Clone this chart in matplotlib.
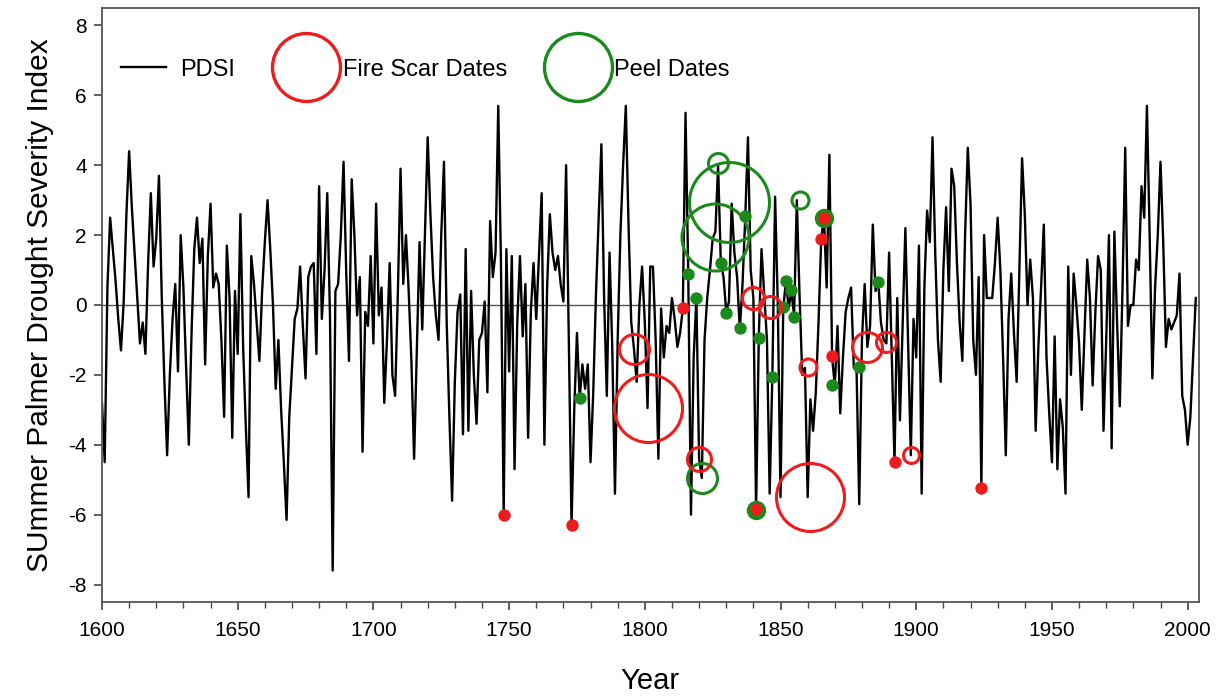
import matplotlib.pyplot as plt
from matplotlib.lines import Line2D
from matplotlib.ticker import MultipleLocator

plt.rcParams['font.family'] = ['Liberation Sans', 'DejaVu Sans']
plt.rcParams['axes.unicode_minus'] = False

first_year = 1600
pdsi = [
    -2.8, -4.5, 0.5, 2.5, 1.6, 0.7, -0.4, -1.3, 0.1, 2.6,          # 1600
    4.4, 2.8, 1.5, 0.2, -1.1, -0.5, -1.4, 1.2, 3.2, 1.1,           # 1610
    1.9, 3.7, 0.3, -2.2, -4.3, -2.0, -0.4, 0.6, -1.9, 2.0,         # 1620
    0.5, -1.8, -4.0, -0.8, 1.6, 2.5, 1.2, 1.9, -1.7, 1.4,          # 1630
    2.9, 0.5, 0.9, 0.6, -1.0, -3.2, 1.7, 0.2, -3.8, 0.4,           # 1640
    -1.4, 2.6, -1.2, -3.5, -5.5, 1.4, 0.6, -0.5, -1.6, 0.4,        # 1650
    1.8, 3.0, 1.6, 0.0, -2.4, -1.0, -3.0, -4.5, -6.15, -3.2,       # 1660
    -1.8, -0.4, -0.1, 1.1, -0.6, -2.1, 0.8, 1.1, 1.2, -1.4,        # 1670
    3.4, -0.4, 1.0, 3.2, -0.3, -7.6, 0.4, 0.6, 2.0, 4.1,           # 1680
    0.9, -1.6, 3.6, 2.0, -0.3, 0.8, -4.2, -0.2, -0.6, 1.4,         # 1690
    -1.1, 2.9, -0.3, 0.5, -2.8, -1.0, 1.2, -2.0, -2.6, 0.3,        # 1700
    3.9, 0.6, 2.0, 0.4, -1.6, -4.4, -1.3, 1.8, -0.7, 2.1,          # 1710
    4.8, 2.6, 0.8, -0.3, -1.0, 2.0, 4.1, -0.5, -3.2, -5.6,         # 1720
    -2.2, -0.2, 0.3, -3.7, 1.6, -3.6, 0.4, -2.0, -3.4, -1.0,       # 1730
    -0.8, 0.1, -2.5, 2.4, 0.8, 1.5, 5.7, 1.2, -6.0, 1.6,           # 1740
    -1.9, 1.4, -4.7, -0.5, 1.4, -0.9, 0.6, -3.8, -0.2, 1.2,        # 1750
    -0.4, 1.4, 3.2, -4.0, 0.5, 2.6, 1.5, 1.0, 1.4, 0.6,            # 1760
    0.1, 4.0, -1.0, -6.3, -3.0, -0.8, -2.7, -1.7, -2.4, -1.7,      # 1770
    -4.5, -2.5, 0.3, 2.5, 4.6, 0.2, -2.6, 1.5, -1.2, -5.4,         # 1780
    -1.0, 2.0, 4.0, 5.7, 2.3, -0.5, -1.25, -2.2, 0.0, 1.1,         # 1790
    -0.5, -2.95, 1.1, 1.1, -1.0, -4.4, -0.1, -1.5, -0.6, -0.8,     # 1800
    0.2, -0.4, -1.2, -0.8, -0.1, 5.5, 0.9, -6.0, -1.5, 0.2,        # 1810
    -4.4, -4.95, -1.0, 0.2, 1.0, 1.9, 2.1, 4.0, 1.2, 0.8,          # 1820
    -0.2, 0.1, 2.9, 1.5, 0.8, -0.7, 0.6, 2.5, 4.8, 1.0,            # 1830
    0.2, -5.85, -0.9, 1.6, 0.3, -1.0, -5.4, -2.0, 3.1, 0.0,        # 1840
    -5.5, -0.1, 0.7, -0.1, 0.4, -0.3, 3.0, 0.3, -2.0, -1.8,        # 1850
    -5.5, -2.7, -3.6, -2.5, -0.5, 1.9, 2.5, 0.5, 4.3, -1.5,        # 1860
    -2.3, -0.6, -3.1, -1.5, -0.2, 0.2, 0.5, -1.8, -1.8, -5.7,      # 1870
    -1.0, 0.6, -1.2, -0.6, 2.3, 0.4, 0.7, -0.5, -1.0, -1.1,        # 1880
    1.5, -1.5, -4.5, 0.2, -3.3, -0.5, 2.2, -1.0, -4.3, -0.4,       # 1890
    -1.5, 1.7, -5.4, 0.5, 2.7, 1.8, 4.8, 1.5, -1.0, -2.2,          # 1900
    1.0, 2.8, 0.4, 3.9, 3.4, 1.2, -0.5, -1.6, 2.0, 4.5,            # 1910
    2.9, -1.0, -2.0, 0.8, -5.2, 2.0, 0.2, 0.2, 0.2, 1.2,           # 1920
    2.5, 1.0, -1.5, -4.3, -0.4, 0.9, -0.8, -2.2, 1.0, 4.2,         # 1930
    2.6, 0.0, 1.3, 0.2, -3.6, -1.2, 0.5, 2.3, -1.5, -3.1,          # 1940
    -4.5, -0.9, -4.7, -2.7, -3.5, -5.4, 1.1, -2.0, 0.9, 0.0,       # 1950
    -1.1, -3.0, -0.8, 1.3, 0.2, -2.3, -0.2, 1.4, 1.0, -3.6,        # 1960
    -1.0, 2.0, -4.1, 2.1, -0.5, -2.9, 0.5, 4.5, -0.6, 0.0,         # 1970
    0.0, 1.3, 1.0, 3.4, 2.5, 5.7, 2.0, -2.1, 0.5, 2.0,             # 1980
    4.1, 1.8, -1.2, -0.4, -0.7, -0.5, -0.3, 0.9, -2.6, -3.0,       # 1990
    -4.0, -3.2, -1.5, 0.2,                                         # 2000
]
years = list(range(first_year, first_year + len(pdsi)))

# fire scar dates: year, PDSI, circle diameter (px), filled dot or open circle
fire_year = [1748, 1773, 1796, 1801, 1814, 1820, 1841, 1840, 1846, 1860,
             1861, 1865, 1866, 1869, 1882, 1889, 1892, 1898, 1924]
fire_val = [-6.0, -6.3, -1.25, -2.95, -0.1, -4.4, -5.85, 0.2, -0.05, -1.77,
            -5.5, 1.9, 2.5, -1.45, -1.2, -1.06, -4.48, -4.3, -5.23]
fire_size = [11, 11, 30, 68, 11, 24, 11, 22, 22, 17,
             68, 11, 11, 11, 30, 20, 11, 16, 11]
fire_fill = [1, 1, 0, 0, 1, 0, 1, 0, 0, 0,
             0, 1, 1, 1, 0, 0, 1, 0, 1]

# peel dates
peel_year = [1776, 1816, 1819, 1821, 1827, 1831, 1826, 1828, 1837, 1830,
             1835, 1842, 1841, 1847, 1852, 1854, 1851, 1855, 1857, 1866,
             1869, 1879, 1886]
peel_val = [-2.66, 0.9, 0.2, -4.95, 4.05, 2.95, 1.95, 1.2, 2.55, -0.23,
            -0.66, -0.94, -5.86, -2.05, 0.7, 0.43, -0.05, -0.34, 3.0, 2.5,
            -2.29, -1.77, 0.66]
peel_size = [11, 11, 11, 30, 20, 80, 67, 11, 11, 11,
             11, 11, 18, 11, 11, 11, 11, 11, 17, 18,
             11, 11, 11]
peel_fill = [1, 1, 1, 0, 0, 0, 0, 1, 1, 1,
             1, 1, 1, 1, 1, 1, 1, 1, 0, 1,
             1, 1, 1]

red = '#ee1c1c'
green = '#1a8a1a'
px = 72 / 100  # points per pixel

fig = plt.figure(figsize=(12.17, 7), dpi=100)
ax = fig.add_axes([0.0838, 0.14, 0.901, 0.8486])

ax.axhline(0, color='#555555', lw=1.0, zorder=1)
ax.plot(years, pdsi, color='black', lw=1.7, zorder=2)


def draw_points(xs, ys, sizes, fills, color, z):
    for x, y, s, f in zip(xs, ys, sizes, fills):
        if f:
            ax.plot(x, y, 'o', ms=s * px, color=color, mec=color, zorder=z)
        else:
            ax.plot(x, y, 'o', ms=s * px, mfc='none', mec=color, mew=2.2, zorder=z)


draw_points(peel_year, peel_val, peel_size, peel_fill, green, 3)
draw_points(fire_year, fire_val, fire_size, fire_fill, red, 4)

ax.set_xlim(1600, 2004)
ax.set_ylim(-8.5, 8.5)
ax.xaxis.set_major_locator(MultipleLocator(50))
ax.xaxis.set_minor_locator(MultipleLocator(10))
ax.yaxis.set_major_locator(MultipleLocator(2))
ax.tick_params(axis='both', which='major', direction='out', length=6, width=1.2,
               color='#444444', labelsize=15, pad=5)
ax.tick_params(axis='x', which='minor', direction='out', length=4, width=1.0, color='#444444')
ax.tick_params(axis='x', which='major', pad=8)
for sp in ax.spines.values():
    sp.set_color('#555555')
    sp.set_linewidth(1.3)

ax.set_xlabel('Year', fontsize=21, labelpad=19)
ax.set_ylabel('SUmmer Palmer Drought Severity Index', fontsize=21.5, labelpad=10)

handles = [
    Line2D([], [], color='black', lw=1.7),
    Line2D([], [], ls='none', marker='o', ms=68 * px, mfc='none', mec=red, mew=2.4),
    Line2D([], [], ls='none', marker='o', ms=68 * px, mfc='none', mec=green, mew=2.4),
]
ax.legend(handles, ['PDSI', 'Fire Scar Dates', 'Peel Dates'], loc='center left',
          bbox_to_anchor=(0.007, 0.896), ncol=3, frameon=False, fontsize=17,
          borderpad=0, handlelength=1.9, handletextpad=0.6, columnspacing=2.05)

fig.savefig('out.png', dpi=100)
